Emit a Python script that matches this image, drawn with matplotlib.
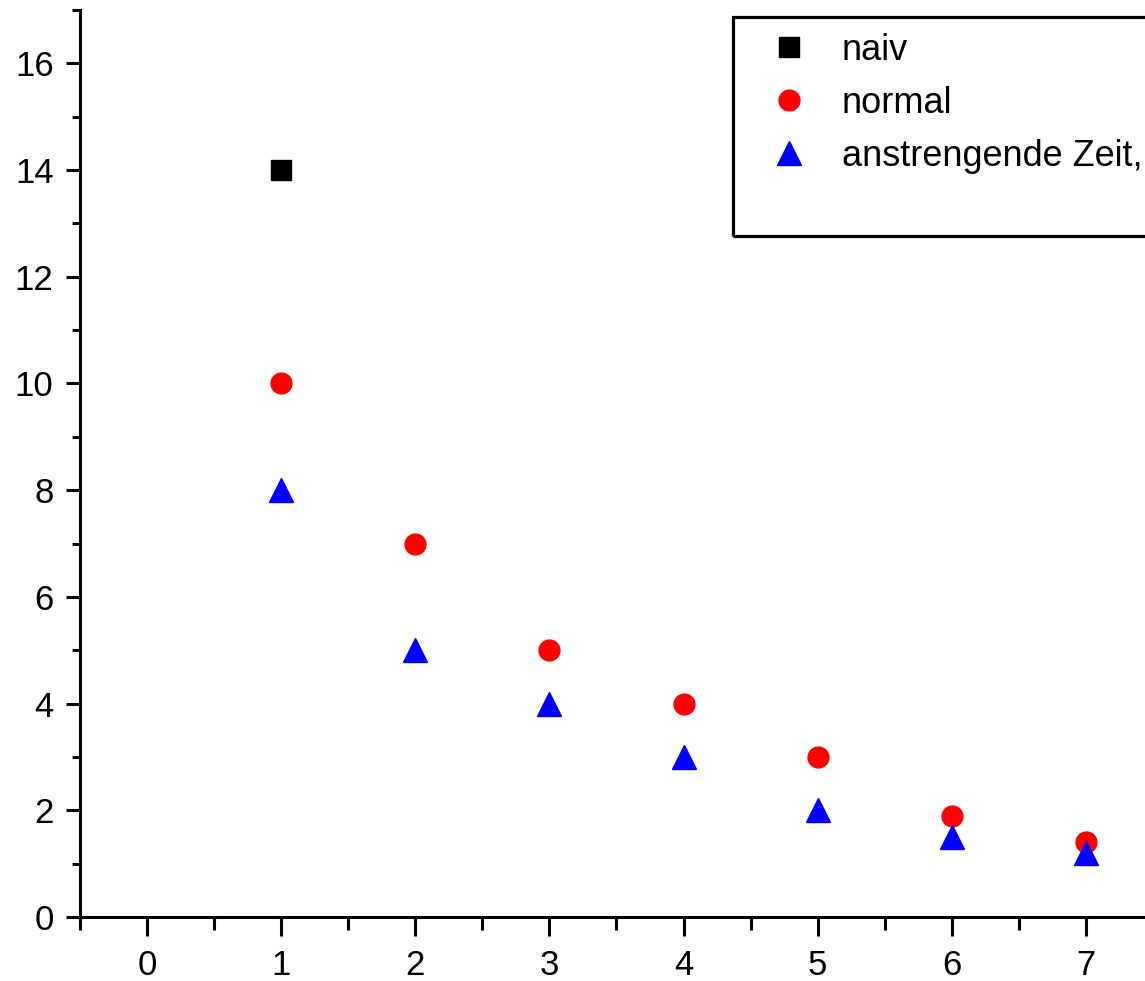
import matplotlib
matplotlib.use("Agg")
import matplotlib.pyplot as plt
from matplotlib import font_manager
from matplotlib.patches import Rectangle
from matplotlib.ticker import MultipleLocator

plt.rcParams['font.family'] = ['Liberation Sans', 'DejaVu Sans']

# Data
x_naiv = [1]
y_naiv = [14]
x_normal = [1, 2, 3, 4, 5, 6, 7]
y_normal = [10, 7, 5, 4, 3, 1.9, 1.4]
x_anstr = [1, 2, 3, 4, 5, 6, 7]
y_anstr = [8, 5, 4, 3, 2, 1.5, 1.2]
labels = ["naiv", "normal", "anstrengende Zeit,"]
x_ticks = [0, 1, 2, 3, 4, 5, 6, 7]
y_ticks = [0, 2, 4, 6, 8, 10, 12, 14, 16]


def has_font(name):
    try:
        font_manager.findfont(font_manager.FontProperties(family=name),
                              fallback_to_default=False)
        return True
    except Exception:
        return False


narrow = has_font('Liberation Sans Narrow')
if narrow:
    leg_prop = dict(family='Liberation Sans Narrow', size=33)
    leg_anchor = (766, 30)
    leg_pad, leg_space = 0.66, 0.19
else:
    leg_prop = dict(family='Liberation Sans', size=26)
    leg_anchor = (771, 33)
    leg_pad, leg_space = 0.96, 0.5

W, H = 1145, 981
fig = plt.figure(figsize=(W / 100, H / 100), dpi=100)
ax = fig.add_axes([80 / W, 64 / H, 1140 / W, 907 / H])

ax.plot(x_naiv, y_naiv, linestyle='none', marker='s', ms=15, color='black',
        label=labels[0])
ax.plot(x_normal, y_normal, linestyle='none', marker='o', ms=15, color='#ff0000',
        label=labels[1])
ax.plot(x_anstr, y_anstr, linestyle='none', marker='^', ms=17, color='#0000ff',
        label=labels[2])

ax.set_xlim(-0.5, 8)
ax.set_ylim(0, 17)
ax.set_xticks(x_ticks)
ax.set_yticks(y_ticks)
ax.xaxis.set_minor_locator(MultipleLocator(0.5))
ax.yaxis.set_minor_locator(MultipleLocator(1))

for s in ['top', 'right']:
    ax.spines[s].set_visible(False)
for s in ['left', 'bottom']:
    ax.spines[s].set_linewidth(2.2)

ax.tick_params(axis='x', which='major', direction='out', length=14, width=2.2,
               labelsize=25, pad=9)
ax.tick_params(axis='x', which='minor', direction='out', length=9, width=2.2)
ax.tick_params(axis='y', which='major', direction='out', length=10, width=2.2,
               labelsize=25, pad=9)
ax.tick_params(axis='y', which='minor', direction='out', length=6, width=2.2)

# legend frame
rect = Rectangle((733 / W, 1 - 236 / H), 600 / W, 219 / H, transform=fig.transFigure,
                 fill=False, edgecolor='black', linewidth=2.3, zorder=5)
fig.patches.append(rect)

ax.legend(loc='upper left',
          bbox_to_anchor=(leg_anchor[0] / W, 1 - leg_anchor[1] / H),
          bbox_transform=fig.transFigure, frameon=False, prop=leg_prop,
          borderpad=0, handlelength=1.0, handletextpad=leg_pad,
          labelspacing=leg_space, borderaxespad=0, numpoints=1)

fig.savefig("out.png", dpi=100)
